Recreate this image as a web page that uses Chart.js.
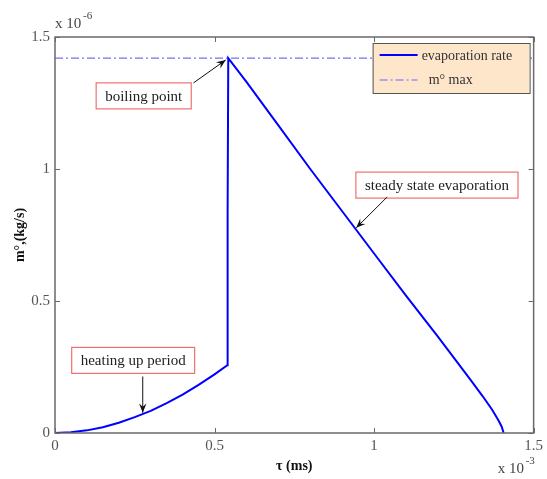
<!DOCTYPE html>
<html>
<head>
<meta charset="utf-8">
<script src="https://cdn.jsdelivr.net/npm/chart.js@4"></script>
<style>
  html, body { margin: 0; padding: 0; background: #fff; }
  #wrap { width: 547px; height: 479px; }
</style>
</head>
<body>
<div id="wrap"><canvas id="evap"></canvas></div>
<script>
// time in 1e-3 ms, rate in 1e-6 kg/s
const time_heat = [0, 0.05, 0.1, 0.15, 0.2, 0.25, 0.3, 0.35, 0.4, 0.45, 0.5, 0.54];
const rate_heat = [0, 0.003, 0.010, 0.022, 0.039, 0.060, 0.084, 0.113, 0.145, 0.182, 0.222, 0.257];
const time_boil = [0.541, 0.543];
const rate_boil = [0.84, 1.42];
const time_steady = [0.6, 0.7, 0.8, 0.9, 1.0, 1.1, 1.2, 1.3, 1.34, 1.37, 1.39, 1.4, 1.406];
const rate_steady = [1.33, 1.165, 1.0, 0.84, 0.68, 0.52, 0.365, 0.205, 0.14, 0.088, 0.047, 0.024, 0];
const rate_max = 1.42;

const x_ticks = [0, 0.5, 1, 1.5];
const y_ticks = [0, 0.5, 1, 1.5];

// label boxes: centre, arrow start, arrow end (data units)
const notes = [
    { text: 'boiling point', cx: 0.278, cy: 1.277, from: [0.434, 1.326], to: [0.535, 1.413] },
    { text: 'steady state evaporation', cx: 1.197, cy: 0.939, from: [1.041, 0.894], to: [0.944, 0.777] },
    { text: 'heating up period', cx: 0.245, cy: 0.275, from: [0.275, 0.214], to: [0.275, 0.077] }
];

const serif = '"Liberation Serif", "DejaVu Serif", serif';
const blue = '#0000ff';

let rate_points = [];
const all_t = time_heat.concat(time_boil, time_steady);
const all_r = rate_heat.concat(rate_boil, rate_steady);
for (let i = 0; i < all_t.length; i++) {
    rate_points.push({ x: all_t[i], y: all_r[i] });
}

const frame_plugin = {
    id: 'frame',
    afterDatasetsDraw(chart) {
        const ctx = chart.ctx;
        const a = chart.chartArea;
        const xs = chart.scales.x, ys = chart.scales.y;
        ctx.save();

        // box + inward ticks
        ctx.strokeStyle = '#6a6a6a';
        ctx.lineWidth = 1.5;
        ctx.strokeRect(a.left, a.top, a.right - a.left, a.bottom - a.top);
        ctx.lineWidth = 1;
        ctx.beginPath();
        x_ticks.forEach(v => {
            const px = Math.round(xs.getPixelForValue(v)) + 0.5;
            ctx.moveTo(px, a.bottom); ctx.lineTo(px, a.bottom - 5);
            ctx.moveTo(px, a.top); ctx.lineTo(px, a.top + 5);
        });
        y_ticks.forEach(v => {
            const py = Math.round(ys.getPixelForValue(v)) + 0.5;
            ctx.moveTo(a.left, py); ctx.lineTo(a.left + 5, py);
            ctx.moveTo(a.right, py); ctx.lineTo(a.right - 5, py);
        });
        ctx.stroke();

        // exponent labels
        ctx.fillStyle = '#444';
        ctx.textBaseline = 'alphabetic';
        ctx.textAlign = 'left';
        ctx.font = '15px ' + serif;
        ctx.fillText('x 10', a.left, a.top - 9);
        ctx.fillText('x 10', a.right - 36, a.bottom + 40);
        ctx.font = '11px ' + serif;
        ctx.fillText('-6', a.left + 28, a.top - 18);
        ctx.fillText('-3', a.right - 8, a.bottom + 31);

        // annotation boxes with arrows
        ctx.font = '15px ' + serif;
        notes.forEach(n => {
            const cx = xs.getPixelForValue(n.cx), cy = ys.getPixelForValue(n.cy);
            const w = ctx.measureText(n.text).width + 18, h = 26;
            ctx.fillStyle = '#fff';
            ctx.fillRect(cx - w / 2, cy - h / 2, w, h);
            ctx.strokeStyle = '#f07070';
            ctx.lineWidth = 1.2;
            ctx.strokeRect(cx - w / 2, cy - h / 2, w, h);
            ctx.fillStyle = '#222';
            ctx.textAlign = 'center';
            ctx.textBaseline = 'middle';
            ctx.fillText(n.text, cx, cy + 1);

            const x0 = xs.getPixelForValue(n.from[0]), y0 = ys.getPixelForValue(n.from[1]);
            const x1 = xs.getPixelForValue(n.to[0]), y1 = ys.getPixelForValue(n.to[1]);
            const ang = Math.atan2(y1 - y0, x1 - x0);
            ctx.strokeStyle = '#111';
            ctx.lineWidth = 1;
            ctx.beginPath();
            ctx.moveTo(x0, y0); ctx.lineTo(x1, y1);
            ctx.stroke();
            ctx.fillStyle = '#111';
            ctx.beginPath();
            ctx.moveTo(x1, y1);
            ctx.lineTo(x1 - 10 * Math.cos(ang - 0.38), y1 - 10 * Math.sin(ang - 0.38));
            ctx.lineTo(x1 - 6 * Math.cos(ang), y1 - 6 * Math.sin(ang));
            ctx.lineTo(x1 - 10 * Math.cos(ang + 0.38), y1 - 10 * Math.sin(ang + 0.38));
            ctx.closePath();
            ctx.fill();
        });

        // legend
        ctx.font = '14px ' + serif;
        const lx = a.right - 161, ly = a.top + 6, lw = 157, lh = 50;
        ctx.fillStyle = '#fde6c9';
        ctx.fillRect(lx, ly, lw, lh);
        ctx.strokeStyle = '#555';
        ctx.lineWidth = 1;
        ctx.strokeRect(lx + 0.5, ly + 0.5, lw, lh);
        ctx.strokeStyle = blue;
        ctx.lineWidth = 2;
        ctx.beginPath();
        ctx.moveTo(lx + 7, ly + 12); ctx.lineTo(lx + 45, ly + 12);
        ctx.stroke();
        ctx.strokeStyle = '#6b6bff';
        ctx.lineWidth = 1;
        ctx.setLineDash([8, 3, 2, 3]);
        ctx.beginPath();
        ctx.moveTo(lx + 7, ly + 37); ctx.lineTo(lx + 45, ly + 37);
        ctx.stroke();
        ctx.setLineDash([]);
        ctx.fillStyle = '#333';
        ctx.textAlign = 'left';
        ctx.textBaseline = 'middle';
        ctx.fillText('evaporation rate', lx + 49, ly + 13);
        ctx.fillText('m° max', lx + 56, ly + 37);

        ctx.restore();
    }
};

new Chart(document.getElementById('evap'), {
    type: 'line',
    data: {
        datasets: [{
            label: 'evaporation rate',
            data: rate_points,
            borderColor: blue,
            borderWidth: 2,
            pointRadius: 0,
            tension: 0,
            fill: false
        }, {
            label: 'm° max',
            data: [{ x: x_ticks[0], y: rate_max }, { x: x_ticks[x_ticks.length - 1], y: rate_max }],
            borderColor: '#4d4dff',
            borderWidth: 1,
            borderDash: [8, 3, 2, 3],
            pointRadius: 0,
            fill: false
        }]
    },
    options: {
        responsive: true,
        maintainAspectRatio: false,
        animation: false,
        layout: { padding: { left: 0, top: 37, right: 12, bottom: 0 } },
        plugins: {
            legend: { display: false },
            tooltip: { enabled: false }
        },
        scales: {
            x: {
                type: 'linear',
                min: 0,
                max: 1.5,
                afterBuildTicks: s => { s.ticks = x_ticks.map(v => ({ value: v })); },
                afterFit: s => { s.height = 46; },
                grid: { display: false, drawTicks: false },
                border: { display: false },
                ticks: {
                    padding: 4,
                    color: '#555',
                    font: { family: serif, size: 15 },
                    maxRotation: 0,
                    callback: v => String(v)
                },
                title: {
                    display: true,
                    text: 'τ (ms)',
                    color: '#111',
                    font: { family: serif, size: 14, weight: 'bold' },
                    padding: { top: 2, bottom: 4 }
                }
            },
            y: {
                type: 'linear',
                min: 0,
                max: 1.5,
                afterBuildTicks: s => { s.ticks = y_ticks.map(v => ({ value: v })); },
                afterFit: s => { s.width = 55; },
                grid: { display: false, drawTicks: false },
                border: { display: false },
                ticks: {
                    padding: 5,
                    color: '#555',
                    font: { family: serif, size: 15 },
                    callback: v => String(v)
                },
                title: {
                    display: true,
                    text: 'm°,(kg/s)',
                    color: '#111',
                    font: { family: serif, size: 14, weight: 'bold' },
                    padding: { top: 12, bottom: 0 }
                }
            }
        }
    },
    plugins: [frame_plugin]
});
</script>
</body>
</html>
